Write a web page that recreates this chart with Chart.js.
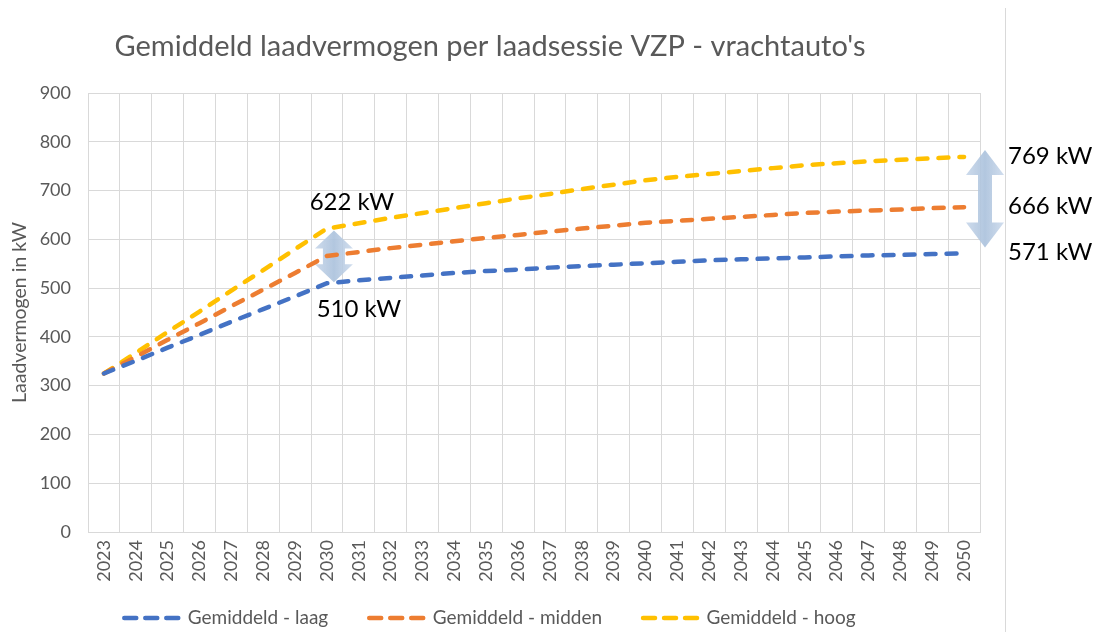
<!DOCTYPE html>
<html>
<head>
<meta charset="utf-8">
<script src="https://cdn.jsdelivr.net/npm/chart.js@4.4.1/dist/chart.umd.min.js"></script>
<style>
  html, body { margin: 0; padding: 0; background: #fff; }
</style>
</head>
<body>
<canvas id="laadChart" width="1095" height="632"></canvas>
<script>
// Jaren op de x-as
const jaren = ['2023', '2024', '2025', '2026', '2027', '2028', '2029', '2030', '2031', '2032',
  '2033', '2034', '2035', '2036', '2037', '2038', '2039', '2040', '2041', '2042',
  '2043', '2044', '2045', '2046', '2047', '2048', '2049', '2050'];

// Gemiddeld laadvermogen (kW) per scenario
const laag = [325, 351, 378, 404, 431, 457, 483, 510, 516, 521,
  526, 531, 535, 538, 542, 545, 548, 551, 554, 557,
  559, 561, 563, 565, 567, 568, 570, 571];
const midden = [325, 359, 394, 428, 463, 497, 531, 566, 574, 582,
  589, 596, 603, 609, 616, 622, 628, 634, 638, 642,
  646, 650, 654, 657, 659, 661, 664, 666];
const hoog = [325, 367, 410, 452, 495, 537, 580, 622, 633, 644,
  654, 664, 674, 684, 693, 703, 712, 721, 728, 734,
  740, 746, 752, 756, 760, 763, 766, 769];

const yMin = 0;
const yMax = 900;
const yStap = 100;

const FONT = 'Lato, "Open Sans", sans-serif';
const GRIJS = '#595959';
const RASTER = '#d9d9d9';

// dubbele pijl (zoals de vorm in Excel)
function dubbelePijl(ctx, cx, top, bottom, kopB, schachtB, kopH) {
  const g = ctx.createLinearGradient(cx - kopB / 2, 0, cx + kopB / 2, 0);
  g.addColorStop(0, 'rgba(196,212,232,0.85)');
  g.addColorStop(0.5, 'rgba(170,193,220,0.9)');
  g.addColorStop(1, 'rgba(200,215,234,0.85)');
  ctx.save();
  ctx.fillStyle = g;
  ctx.beginPath();
  ctx.moveTo(cx, top);
  ctx.lineTo(cx + kopB / 2, top + kopH);
  ctx.lineTo(cx + schachtB / 2, top + kopH);
  ctx.lineTo(cx + schachtB / 2, bottom - kopH);
  ctx.lineTo(cx + kopB / 2, bottom - kopH);
  ctx.lineTo(cx, bottom);
  ctx.lineTo(cx - kopB / 2, bottom - kopH);
  ctx.lineTo(cx - schachtB / 2, bottom - kopH);
  ctx.lineTo(cx - schachtB / 2, top + kopH);
  ctx.lineTo(cx - kopB / 2, top + kopH);
  ctx.closePath();
  ctx.fill();
  ctx.restore();
}

const pijlen = {
  id: 'pijlen',
  beforeDatasetsDraw(chart) {
    const { ctx, scales: { x, y }, chartArea } = chart;
    const i2030 = jaren.indexOf('2030');
    const last = jaren.length - 1;
    dubbelePijl(ctx, x.getPixelForValue(i2030) + 7, y.getPixelForValue(hoog[i2030]) + 2,
      y.getPixelForValue(laag[i2030]) - 1, 38, 22, 18);
    dubbelePijl(ctx, chartArea.right + 5, y.getPixelForValue(hoog[last]) - 7,
      y.getPixelForValue(laag[last]) - 6, 38, 14, 25);
  },
  afterDraw(chart) {
    const { ctx, scales: { x, y } } = chart;
    const i2030 = jaren.indexOf('2030');
    const last = jaren.length - 1;
    ctx.save();
    // rand van het grafiekvlak
    ctx.strokeStyle = RASTER;
    ctx.lineWidth = 1;
    ctx.beginPath();
    ctx.moveTo(1005.5, 8);
    ctx.lineTo(1005.5, chart.height);
    ctx.stroke();

    ctx.fillStyle = '#000';
    ctx.font = '24px ' + FONT;
    ctx.textBaseline = 'middle';
    ctx.textAlign = 'center';
    const x30 = x.getPixelForValue(i2030);
    ctx.fillText(hoog[i2030] + ' kW', x30 + 25, y.getPixelForValue(hoog[i2030]) - 26);
    ctx.fillText(laag[i2030] + ' kW', x30 + 32, y.getPixelForValue(laag[i2030]) + 26);
    ctx.textAlign = 'left';
    [hoog, midden, laag].forEach(reeks => {
      ctx.fillText(reeks[last] + ' kW', 1008, y.getPixelForValue(reeks[last]) - 1);
    });
    ctx.restore();
  }
};

const lijn = (label, data, kleur) => ({
  label: label,
  data: data,
  borderColor: kleur,
  backgroundColor: kleur,
  borderWidth: 4.5,
  borderDash: [10, 11],
  borderCapStyle: 'round',
  pointRadius: 0,
  tension: 0,
  fill: false
});

const ctx = document.getElementById('laadChart').getContext('2d');
const laadChart = new Chart(ctx, {
  type: 'line',
  data: {
    labels: jaren,
    datasets: [
      lijn('Gemiddeld - laag', laag, '#4472c4'),
      lijn('Gemiddeld - midden', midden, '#ed7d31'),
      lijn('Gemiddeld - hoog', hoog, '#ffc000')
    ]
  },
  options: {
    responsive: false,
    animation: false,
    devicePixelRatio: 1,
    layout: { padding: { left: 0, right: 115, top: 0, bottom: -5.5 } },
    scales: {
      x: {
        offset: true,
        grid: { offset: true, color: RASTER, drawTicks: false },
        border: { color: RASTER },
        ticks: {
          autoSkip: false,
          maxRotation: 90,
          minRotation: 90,
          padding: 8,
          color: GRIJS,
          font: { family: FONT, size: 18 }
        },
        afterFit: s => { s.height = 73.5; }
      },
      y: {
        min: yMin,
        max: yMax,
        grid: { color: RASTER, drawTicks: false },
        border: { display: false },
        ticks: {
          stepSize: yStap,
          padding: 17,
          color: GRIJS,
          font: { family: FONT, size: 18 }
        },
        title: {
          display: true,
          text: 'Laadvermogen in kW',
          color: GRIJS,
          padding: { top: 8, bottom: 0 },
          font: { family: FONT, size: 19.5 }
        },
        afterFit: s => { s.width = 88; }
      }
    },
    plugins: {
      title: {
        display: true,
        text: "Gemiddeld laadvermogen per laadsessie VZP - vrachtauto's",
        color: GRIJS,
        font: { family: FONT, size: 29, weight: 'normal' },
        padding: { top: 29.6, bottom: 28.6 }
      },
      legend: {
        position: 'bottom',
        labels: {
          usePointStyle: true,
          pointStyleWidth: 54,
          padding: 3,
          color: GRIJS,
          font: { family: FONT, size: 19 },
          generateLabels: chart => chart.data.datasets.map((ds, i, all) => ({
            text: ds.label + (i < all.length - 1 ? '\u2003\u2003\u2002' : ''),
            fillStyle: ds.borderColor,
            strokeStyle: ds.borderColor,
            fontColor: GRIJS,
            lineWidth: ds.borderWidth,
            lineDash: [12, 9],
            lineCap: 'round',
            pointStyle: 'line',
            hidden: false,
            datasetIndex: i
          }))
        }
      },
      tooltip: { enabled: false }
    }
  },
  plugins: [pijlen]
});
</script>
</body>
</html>
